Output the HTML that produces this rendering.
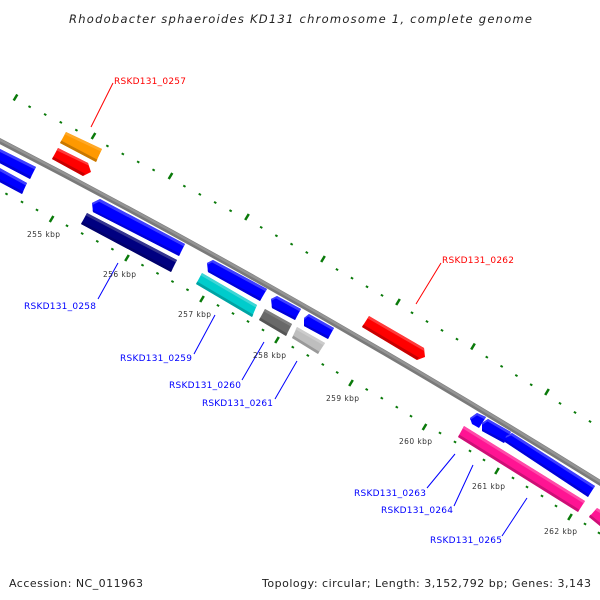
<!DOCTYPE html>
<html><head><meta charset="utf-8"><style>
html,body{margin:0;padding:0;background:#fff;width:600px;height:600px;overflow:hidden}
svg{display:block}
text{font-family:"DejaVu Sans","Liberation Sans",sans-serif}
.g{font-size:9px}
.k{font-size:7.5px;fill:#333}
</style></head><body>
<svg xmlns="http://www.w3.org/2000/svg" width="600" height="600" viewBox="0 0 600 600">
<rect width="600" height="600" fill="#fff"/>
<text x="69" y="23" font-size="11.5" font-style="italic" fill="#222" textLength="463" lengthAdjust="spacing">Rhodobacter sphaeroides KD131 chromosome 1, complete genome</text>
<text x="9" y="587" font-size="11" fill="#222" textLength="134" lengthAdjust="spacing">Accession: NC_011963</text>
<text x="262" y="587" font-size="11" fill="#222" textLength="329" lengthAdjust="spacing">Topology: circular; Length: 3,152,792 bp; Genes: 3,143</text>

<!-- backbone -->
<path d="M-10,136 Q300,295.5 610,489" fill="none" stroke="#7a7a7a" stroke-width="5.5"/>
<path d="M-10,134.8 Q300,294.3 610,487.8" fill="none" stroke="#949494" stroke-width="2.4"/>

<!-- ticks -->
<g stroke="#0a7a0a" stroke-width="2.5" fill="none">
<path d="M13.7,100.5L17.3,94.5M91.7,139L95.3,133M168.7,179L172.3,173M245.2,220L248.8,214M321.2,262L324.8,256M396.2,305L399.8,299M471.2,349.5L474.8,343.5M545.2,395L548.8,389"/>
<path d="M49.8,222L53.4,216M125.2,261L128.8,255M200.2,302L203.8,296M275.2,343L278.8,337M349.2,386L352.8,380M422.7,430L426.3,424M495.2,474L498.8,468M568.2,520L571.8,514"/>
</g>
<g stroke="#0a7a0a" stroke-width="2.6" fill="none">
<path d="M29.1,107.6l1,-1.7M44.7,115.4l1,-1.7M60.3,123.2l1,-1.7M75.9,131l1,-1.7M106.9,146.8l1,-1.7M122.3,154.8l1,-1.7M137.7,162.8l1,-1.7M153.1,170.8l1,-1.7M183.9,187l1,-1.7M199.3,195.2l1,-1.7M214.7,203.4l1,-1.7M230.1,211.6l1,-1.7M260.7,228.2l1,-1.7M275.9,236.6l1,-1.7M291.1,245l1,-1.7M306.3,253.4l1,-1.7M336.5,270.4l1,-1.7M351.5,279l1,-1.7M366.5,287.6l1,-1.7M381.5,296.2l1,-1.7M411.5,313.6l1,-1.7M426.5,322.4l1,-1.7M441.5,331.2l1,-1.7M456.5,340l1,-1.7M486.3,358l1,-1.7M501.1,367.2l1,-1.7M515.9,376.4l1,-1.7M530.7,385.6l1,-1.7M559.5,404.2l1,-1.7M574.5,413.3l1,-1.7M589.5,422.3l1,-1.7"/>
<path d="M6,194.8l1,-1.7M21.5,202.8l1,-1.7M36.5,210.8l1,-1.7M66.5,226.6l1,-1.7M81.7,234.4l1,-1.7M96.8,242.2l1,-1.7M111.9,250l1,-1.7M142,266l1,-1.7M157,274.2l1,-1.7M172,282.4l1,-1.7M187,290.6l1,-1.7M217.5,306.3l1,-1.7M232.5,314.3l1,-1.7M247.5,322.3l1,-1.7M262.5,330.8l1,-1.7M292.3,348l1,-1.7M307.3,356.3l1,-1.7M322.3,365.3l1,-1.7M336.7,373.3l1,-1.7M366.2,390.3l1,-1.7M381.3,399l1,-1.7M396.3,408l1,-1.7M410.5,417l1,-1.7M439.5,433.8l1,-1.7M454.5,442.8l1,-1.7M469.5,451.8l1,-1.7M483.5,460.8l1,-1.7M512.5,478.8l1,-1.7M526.5,487.8l1,-1.7M541.5,496.8l1,-1.7M555.5,506.8l1,-1.7M584.5,524.8l1,-1.7M598.5,533.8l1,-1.7"/>
</g>

<!-- genes -->
<g><polygon fill="#ff9900" points="66,132 102,149 96,162 60,143"/><polygon fill="#ffa826" points="66,132 102,149 100.7,151.4 64.7,134.4"/><polygon fill="#c87800" points="60,143 96,162 97.3,159.6 61.3,140.6"/></g>
<g><polygon fill="#ff0000" points="58,148 88,163 91,172 83,176 52,159"/><polygon fill="#ff3a3a" points="58,148 88,163 88.5,165.5 56.7,150.4"/><polygon fill="#c80000" points="52,159 83,176 85,173.6 53.3,156.6"/></g>
<g><polygon fill="#ff0000" points="369,316 424,348 425,357 417,360 362,327"/><polygon fill="#ff3a3a" points="369,316 424,348 424.2,351 367.7,318.4"/><polygon fill="#c80000" points="362,327 417,360 419,357.6 363.3,324.6"/></g>

<g><polygon fill="#0000ff" points="-2,148 36,167 30,179 -8,159"/><polygon fill="#3d3dff" points="-2,148 36,167 34.7,169.4 -3.3,150.4"/><polygon fill="#0000d8" points="-8,159 30,179 31.3,176.6 -6.7,156.6"/></g>
<g><polygon fill="#0000ff" points="-2,167 27,183 22,194 -8,178"/><polygon fill="#3d3dff" points="-2,167 27,183 25.7,185.4 -3.3,169.4"/><polygon fill="#0000d8" points="-8,178 22,194 23.3,191.6 -6.7,175.6"/></g>
<g><polygon fill="#0000ff" points="92,203 100,199 185,244 179,256 93,212"/><polygon fill="#3d3dff" points="92,203 100,199 185,244 183.7,246.4 99,201.8 92.5,205"/><polygon fill="#0000d8" points="93,212 179,256 180.3,253.6 92.6,209.6"/></g>
<g><polygon fill="#000080" points="87,213 177,260 171,272 81,224"/><polygon fill="#33338f" points="87,213 177,260 175.7,262.4 85.7,215.4"/><polygon fill="#00006c" points="81,224 171,272 172.3,269.6 82.3,221.6"/></g>
<g><polygon fill="#0000ff" points="207,263 213,260 267,289 260,301 208,272"/><polygon fill="#3d3dff" points="207,263 213,260 267,289 265.7,291.4 212,262.4 207,265"/><polygon fill="#0000d8" points="208,272 260,301 261.3,298.6 207.7,269.6"/></g>
<g><polygon fill="#00cccc" points="202,273 257,305 252,317 196,284"/><polygon fill="#3ed6d6" points="202,273 257,305 255.7,307.4 200.7,275.4"/><polygon fill="#00a3a3" points="196,284 252,317 253.3,314.6 197.3,281.6"/></g>
<g><polygon fill="#0000ff" points="271,299 277,296 301,309 295,320 272,308"/><polygon fill="#3d3dff" points="271,299 277,296 301,309 299.7,311.4 276,298.4 271,301"/><polygon fill="#0000d8" points="272,308 295,320 296.3,317.6 271.7,305.6"/></g>
<g><polygon fill="#696969" points="265,309 292,324 286,336 259,320"/><polygon fill="#7e7e7e" points="265,309 292,324 290.7,326.4 263.7,311.4"/><polygon fill="#555555" points="259,320 286,336 287.3,333.6 260.3,317.6"/></g>
<g><polygon fill="#0000ff" points="304,318 309,314 334,328 328,339 304,326"/><polygon fill="#3d3dff" points="304,318 309,314 334,328 332.7,330.4 308,316.4 304,320"/><polygon fill="#0000d8" points="304,326 328,339 329.3,336.6 304,323.6"/></g>
<g><polygon fill="#bebebe" points="297,327 325,343 318,354 292,338"/><polygon fill="#cccccc" points="297,327 325,343 323.7,345.4 295.7,329.4"/><polygon fill="#999999" points="292,338 318,354 319.3,351.6 293.3,335.6"/></g>

<g><polygon fill="#ff1493" points="464,426 585,501 578,512 458,437"/><polygon fill="#ff4aa9" points="464,426 585,501 583.7,503.4 462.7,428.4"/><polygon fill="#cc1076" points="458,437 578,512 579.3,509.6 459.3,434.6"/></g>
<g><polygon fill="#ff1493" points="597,508 612,517 606,531 589,517"/><polygon fill="#ff4aa9" points="597,508 612,517 610.7,519.4 595.7,510.4"/><polygon fill="#cc1076" points="589,517 606,531 607.3,528.6 590.3,514.6"/></g>
<g><polygon fill="#0000ff" points="470,418 477,413 486,417 479,428 472,424"/><polygon fill="#3d3dff" points="470,418 477,413 486,417 484.7,419.4 477,415.4 470,420"/></g>
<g><polygon fill="#0000ff" points="482,423 488,419 511,432 504,443 482,431"/><polygon fill="#3d3dff" points="482,423 488,419 511,432 509.7,434.4 487.5,421.4 482,425"/><polygon fill="#0000d8" points="482,431 504,443 505.3,440.6 482,428.6"/></g>
<g><polygon fill="#0000ff" points="506,436 512,433 595,486 588,497 505,442"/><polygon fill="#3d3dff" points="506,436 512,433 595,486 593.7,488.4 511,435.4 505.5,438"/><polygon fill="#0000d8" points="505,442 588,497 589.3,494.6 505.3,439.6"/></g>

<!-- leader lines -->
<g fill="none" stroke-width="1">
<path stroke="#ff0000" d="M113,83L91,127M441,263L416,304"/>
<path stroke="#0000ff" d="M118,263L98,299M215,315L194,354M264,342L242,380M297,361L275,399M455,454L427,488M473,465L454,506M527,498L502,536"/>
</g>

<!-- gene labels -->
<g class="g" fill="#ff0000">
<text x="114" y="84" textLength="72" lengthAdjust="spacing">RSKD131_0257</text>
<text x="442" y="263" textLength="72" lengthAdjust="spacing">RSKD131_0262</text>
</g>
<g class="g" fill="#0000ff">
<text x="24" y="309" textLength="72" lengthAdjust="spacing">RSKD131_0258</text>
<text x="120" y="361" textLength="72" lengthAdjust="spacing">RSKD131_0259</text>
<text x="169" y="388" textLength="72" lengthAdjust="spacing">RSKD131_0260</text>
<text x="202" y="406" textLength="71" lengthAdjust="spacing">RSKD131_0261</text>
<text x="354" y="496" textLength="72" lengthAdjust="spacing">RSKD131_0263</text>
<text x="381" y="513" textLength="72" lengthAdjust="spacing">RSKD131_0264</text>
<text x="430" y="543" textLength="72" lengthAdjust="spacing">RSKD131_0265</text>
</g>

<!-- kbp labels -->
<g class="k">
<text x="27" y="237" textLength="33" lengthAdjust="spacing">255 kbp</text>
<text x="103" y="277" textLength="33" lengthAdjust="spacing">256 kbp</text>
<text x="178" y="317" textLength="33" lengthAdjust="spacing">257 kbp</text>
<text x="253" y="358" textLength="33" lengthAdjust="spacing">258 kbp</text>
<text x="326" y="401" textLength="33" lengthAdjust="spacing">259 kbp</text>
<text x="399" y="444" textLength="33" lengthAdjust="spacing">260 kbp</text>
<text x="472" y="489" textLength="33" lengthAdjust="spacing">261 kbp</text>
<text x="544" y="534" textLength="33" lengthAdjust="spacing">262 kbp</text>
</g>
</svg>
</body></html>
